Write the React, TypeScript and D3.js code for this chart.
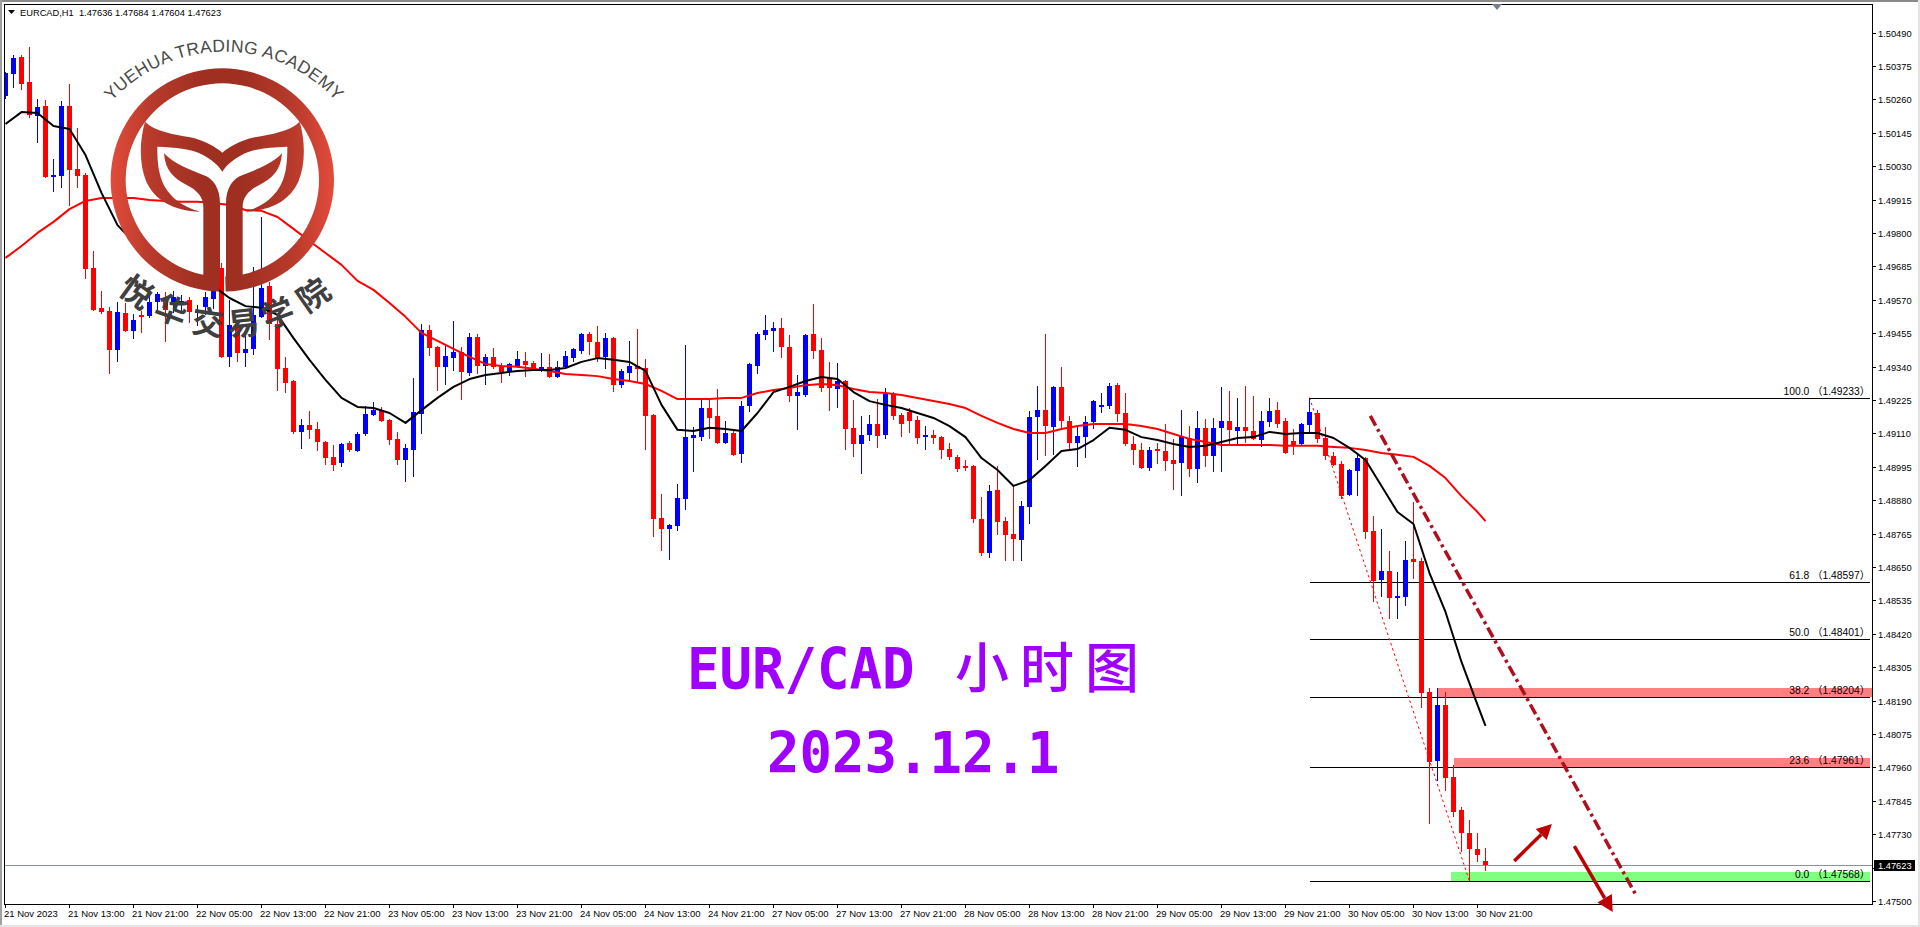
import React from "react";
import * as d3 from "d3";

// Prices in points (1/100000)
const opens = [
150271,150347,150406,150320,150203,150237,149993,149996,150237,150020,
150000,149679,149542,149531,149397,149524,149462,149518,149514,149562,
149569,149555,149559,149569,149528,149545,149573,149679,149373,149476,
149387,149401,149511,149617,149487,149335,149290,149115,149139,149125,
149080,149029,149008,149077,149049,149108,149173,149187,149156,149091,
149018,149053,149177,149466,149407,149339,149369,149390,149318,149442,
149342,149373,149342,149321,149342,149359,149352,149325,149339,149304,
149339,149369,149394,149452,149425,149373,149438,149276,149318,149342,
149335,149173,148819,148781,148791,148884,149094,149097,149197,149170,
149077,149111,149039,149204,149342,149449,149462,149473,149407,149239,
149242,149452,149397,149301,149263,149290,149129,149073,149104,149142,
149104,149246,149173,149184,149156,149097,149104,149097,149056,149029,
148998,148998,148815,148698,148915,148808,148764,148743,148856,149166,
149190,149132,149270,149153,149077,149097,149149,149204,149204,149276,
149180,149073,149053,148991,149056,149049,149018,149008,149094,148987,
149129,149032,149129,149153,149118,149132,149118,149087,149149,149190,
149153,149084,149073,149139,149180,149094,149032,149005,148898,148980,
149025,148774,148605,148636,148543,148547,148678,148671,148220,147982,
148175,147927,147813,147734,147679,147636];
const highs = [
150354,150413,150413,150440,150261,150258,150055,150254,150313,150161,
150006,149738,149600,149545,149562,149559,149521,149531,149590,149597,
149597,149600,149586,149579,149552,149597,149631,149697,149569,149500,
149452,149683,149855,149631,149500,149373,149295,149160,149187,149149,
149084,149070,149077,149084,149115,149204,149218,149201,149160,149115,
149073,149301,149487,149483,149411,149411,149497,149407,149456,149452,
149383,149404,149352,149352,149394,149390,149359,149387,149383,149359,
149394,149404,149456,149459,149480,149456,149442,149332,149428,149469,
149366,149177,148901,148798,148936,149414,149132,149225,149225,149263,
149153,149118,149221,149352,149459,149518,149493,149507,149449,149311,
149452,149555,149438,149356,149352,149295,149225,149170,149173,149228,
149266,149252,149180,149197,149170,149135,149122,149101,149077,149036,
149018,149001,148891,148932,148998,148822,148929,148877,149187,149273,
149452,149273,149339,149170,149135,149170,149225,149249,149283,149283,
149249,149101,149077,149063,149077,149142,149091,149190,149135,149187,
149160,149163,149270,149256,149232,149273,149239,149187,149232,149218,
149163,149125,149146,149233,149190,149132,149046,149015,148987,149039,
149029,148826,148781,148705,148633,148739,148874,148681,148233,148233,
148220,147968,147824,147779,147734,147684];
const lows = [
150261,150299,150292,150196,150110,149990,149941,149955,149893,149955,
149641,149530,149521,149314,149356,149459,149435,149456,149507,149535,
149425,149524,149528,149490,149480,149518,149538,149369,149339,149356,
149339,149380,149508,149431,149256,149249,149108,149056,149091,149049,
149001,148980,148994,149046,149046,149101,149170,149150,149070,149001,
148943,148960,149108,149376,149256,149276,149325,149225,149307,149314,
149276,149332,149283,149307,149335,149304,149328,149321,149301,149301,
149332,149356,149383,149380,149356,149332,149252,149266,149294,149287,
149053,148753,148705,148674,148774,148846,148977,149084,149091,149073,
149073,149032,149008,149184,149314,149431,149390,149369,149218,149122,
149235,149366,149252,149187,149197,149053,149029,148970,149084,149060,
149091,149156,149097,149111,149073,149053,149073,149022,149018,148977,
148980,148801,148688,148681,148760,148671,148671,148671,148798,149018,
149032,149036,149125,149053,148994,149025,149125,149180,149194,149149,
149067,149001,148988,148980,149005,148980,148915,148894,148960,148939,
148994,148977,148977,149073,149073,149077,149087,149063,149132,149129,
149040,149036,149070,149115,149077,149018,148998,148884,148894,148894,
148746,148530,148547,148471,148471,148516,148609,148165,147765,147913,
147879,147789,147669,147568,147634,147604];
const closes = [
150351,150402,150313,150206,150234,149993,150000,150237,150017,149996,
149676,149535,149528,149397,149528,149462,149500,149511,149562,149590,
149535,149579,149566,149528,149531,149579,149610,149373,149483,149387,
149401,149518,149610,149487,149332,149283,149115,149139,149122,149080,
149025,149001,149073,149053,149108,149177,149190,149153,149087,149018,
149060,149184,149466,149404,149339,149376,149390,149321,149442,149342,
149373,149339,149321,149349,149366,149345,149332,149339,149304,149339,
149376,149401,149452,149425,149369,149438,149276,149325,149342,149332,
149170,148815,148781,148795,148887,149097,149104,149197,149163,149077,
149111,149036,149204,149349,149452,149466,149473,149407,149239,149252,
149449,149394,149266,149266,149290,149125,149073,149104,149142,149101,
149246,149170,149142,149153,149094,149104,149094,149053,149029,148987,
148991,148815,148698,148912,148805,148760,148746,148860,149166,149190,
149135,149270,149153,149077,149101,149149,149221,149208,149273,149177,
149073,149053,148991,149053,149049,149015,149005,149101,148987,149129,
149032,149129,149153,149122,149132,149118,149091,149153,149187,149142,
149042,149067,149142,149184,149091,149032,149001,148894,148984,149025,
148770,148602,148636,148543,148550,148674,148667,148216,147979,148175,
147924,147806,147734,147679,147658,147623];

// Moving averages, read at every second bar (and the last bar)
const fastMA = [
150175,150216,150213,150168,150158,150068,149938,149827,149769,149734,
149700,149666,149638,149617,149576,149548,149542,149518,149438,149363,
149294,149232,149201,149197,149180,149146,149190,149232,149270,149297,
149311,149318,149325,149328,149328,149335,149356,149369,149363,149356,
149325,149208,149122,149118,149129,149125,149118,149180,149252,149270,
149290,149304,149297,149252,149221,149208,149197,149180,149163,149135,
149097,149025,148984,148929,148949,148998,149049,149056,149087,149129,
149122,149097,149087,149073,149063,149067,149080,149094,149097,149115,
149108,149111,149111,149094,149060,149018,148929,148839,148798,148629,
148495,148323,148175,148103];
const slowMA = [
149714,149755,149800,149838,149882,149910,149920,149920,149920,149913,
149910,149907,149907,149903,149896,149879,149876,149855,149814,149772,
149731,149690,149635,149604,149559,149511,149456,149428,149401,149373,
149349,149342,149339,149332,149325,149314,149311,149307,149297,149290,
149280,149256,149228,149228,149228,149232,149232,149249,149259,149266,
149276,149280,149276,149263,149252,149249,149242,149232,149221,149211,
149197,149170,149146,149125,149111,149111,149125,149135,149142,149142,
149142,149135,149125,149108,149091,149080,149070,149070,149070,149070,
149067,149067,149067,149063,149060,149053,149042,149036,149029,148998,
148956,148894,148839,148808];

const priceTicks = [150490,150375,150260,150145,150030,149915,149800,149685,149570,149455,149340,149225,149110,148995,148880,148765,148650,148535,148420,148305,148190,148075,147960,147845,147730,147615,147500];
const timeLabels = ["21 Nov 2023","21 Nov 13:00","21 Nov 21:00","22 Nov 05:00","22 Nov 13:00","22 Nov 21:00","23 Nov 05:00","23 Nov 13:00","23 Nov 21:00","24 Nov 05:00","24 Nov 13:00","24 Nov 21:00","27 Nov 05:00","27 Nov 13:00","27 Nov 21:00","28 Nov 05:00","28 Nov 13:00","28 Nov 21:00","29 Nov 05:00","29 Nov 13:00","29 Nov 21:00","30 Nov 05:00","30 Nov 13:00","30 Nov 21:00"];

const fibLevels = [100.0, 61.8, 50.0, 38.2, 23.6, 0.0];
const fibPrices = [149233, 148597, 148401, 148204, 147961, 147568];
const fibBarStart = 163, fibBarEnd = 183, fibBarRight = 233;
const zoneTops = [148233, 147993, 147600];
const zoneBottoms = [148204, 147961, 147568];
const zoneStarts = [179, 181, 180.7];
const zoneEnds = [234.2, 233, 233];
const zoneFills = ["#ff8080", "#ff8080", "#80ff80"];
const channelBars = [170.6, 203.8];
const channelPrices = [149170, 147521];
const arrowUpBars = [188.6, 193.3];
const arrowUpPrices = [147638, 147765];
const arrowDownBars = [196.1, 200.9];
const arrowDownPrices = [147689, 147462];
const lastPrice = 147623;

const W = 1920, H = 927;
const left = 4.5, top = 4.5, right = 1872.5, bottom = 904.5;
const x = d3.scaleLinear().domain([0, 185]).range([5.5, 1485.5]);
const y = d3.scaleLinear().domain([147500, 150490]).range([901, 32.5]);
const px = (v: number) => Math.round(y(v));
const AXIS_FONT = "'Liberation Sans', Arial, sans-serif";
const maLine = d3.line<number>()
  .x((_, i) => x(Math.min(i * 2, 185)))
  .y((d) => y(d));

const fmt = (v: number) => (v / 100000).toFixed(5);

function Arrow({ bars, prices, shaft, head }: { bars: number[]; prices: number[]; shaft: number; head: number }) {
  const x0 = x(bars[0]), y0 = y(prices[0]), x1 = x(bars[1]), y1 = y(prices[1]);
  const a = Math.atan2(y1 - y0, x1 - x0);
  const bx = x1 - head * Math.cos(a), by = y1 - head * Math.sin(a);
  const hw = head * 0.52;
  const pts = [[x1, y1], [bx - hw * Math.sin(a), by + hw * Math.cos(a)], [bx + hw * Math.sin(a), by - hw * Math.cos(a)]];
  return (
    <g>
      <line x1={x0} y1={y0} x2={bx} y2={by} stroke="#c00000" strokeWidth={shaft} />
      <polygon points={pts.map((p) => p.join(",")).join(" ")} fill="#c00000" />
    </g>
  );
}

function Logo() {
  const ring = d3.arc()({
    innerRadius: 290, outerRadius: 335,
    startAngle: Math.PI + 0.03, endAngle: 3 * Math.PI - 0.03, cornerRadius: 12,
  } as any) as string;
  const crescent = "M435,365 C465,395 520,402 570,412 C615,422 645,440 667,458 C689,440 719,422 764,412 C814,402 869,395 899,365 C915,420 918,490 895,545 C870,600 815,632 735,635 C790,620 840,585 855,520 C862,490 862,460 862,440 C810,442 760,445 725,465 C700,478 680,495 667,515 C654,495 634,478 609,465 C574,445 524,442 472,440 C472,460 472,490 479,520 C494,585 544,620 600,635 C519,632 464,600 439,545 C416,490 419,420 435,365 Z";
  const stem = "M492,460 C520,490 570,510 610,525 C640,535 660,565 660,610 L660,850 L610,850 L610,620 C610,590 590,570 560,555 C520,535 495,510 492,460 Z";
  const chars = [
    ["悦", 138, 290, 36], ["华", 172, 308, 20], ["交", 208, 320, 8],
    ["易", 243, 321, -6], ["学", 277, 311, -20], ["院", 312, 293, -35],
  ] as [string, number, number, number][];
  const stops = (
    <>
      <stop offset="0" stopColor="#e34b3b" />
      <stop offset="0.18" stopColor="#b83a2b" />
      <stop offset="0.42" stopColor="#9e2f21" />
      <stop offset="0.58" stopColor="#9e2f21" />
      <stop offset="0.82" stopColor="#b83a2b" />
      <stop offset="1" stopColor="#e34b3b" />
    </>
  );
  return (
    <g>
      <defs>
        <linearGradient id="logoGrad" gradientUnits="userSpaceOnUse" x1={332} x2={1002} y1={0} y2={0}>{stops}</linearGradient>
        <linearGradient id="ringGrad" gradientUnits="userSpaceOnUse" x1={-335} x2={335} y1={0} y2={0}>{stops}</linearGradient>
        <path id="logoArc" d="M90,132 A152,152 0 0 1 358,132" fill="none" />
      </defs>
      <g transform="scale(0.33333)" fill="url(#logoGrad)">
        <path d={ring} transform="translate(667,540)" fill="url(#ringGrad)" />
        <path d={crescent} />
        <path d={stem} />
        <path d={stem} transform="translate(1338,0) scale(-1,1)" />
      </g>
      <text fontFamily={AXIS_FONT} fontSize={17.5} fill="#4a4a4a" letterSpacing={0.3} textAnchor="middle">
        <textPath href="#logoArc" startOffset="50%">YUEHUA TRADING ACADEMY</textPath>
      </text>
      {chars.map(([c, cx, cy, r]) => (
        <text key={c} transform={`translate(${cx},${cy}) rotate(${r})`} textAnchor="middle" dominantBaseline="central"
          fontFamily="'Noto Sans CJK SC'" fontWeight={700} fontSize={32} fill="#3f3f3f">{c}</text>
      ))}
    </g>
  );
}

export default function App() {
  const tickFont = { fontFamily: AXIS_FONT, fontSize: 9.5, fill: "#000" };
  const priceFont = { fontFamily: AXIS_FONT, fontSize: 9.3, fill: "#000" };
  return (
    <svg width={W} height={H} viewBox={`0 0 ${W} ${H}`} style={{ position: "absolute", left: 0, top: 0, display: "block", background: "#fff" }}>
      <defs>
        <clipPath id="plot"><rect x={left} y={top} width={right - left} height={bottom - top} /></clipPath>
      </defs>
      {/* window frame */}
      <rect x={0} y={0} width={W} height={2} fill="#8a8a8a" />
      <rect x={0} y={0} width={2} height={H} fill="#a0a0a0" />
      <rect x={0} y={H - 2} width={W} height={2} fill="#e4e4e4" />
      <rect x={W - 2} y={0} width={2} height={H} fill="#e4e4e4" />

      {/* zones */}
      <g clipPath="url(#plot)" shapeRendering="crispEdges">
        {zoneTops.map((t, i) => (
          <rect key={i} x={x(zoneStarts[i])} y={px(t)} width={x(zoneEnds[i]) - x(zoneStarts[i])} height={px(zoneBottoms[i]) - px(t)} fill={zoneFills[i]} />
        ))}
      </g>

      {/* last price line */}
      <line x1={left} x2={right} y1={px(lastPrice) + 0.5} y2={px(lastPrice) + 0.5} stroke="#8a929a" shapeRendering="crispEdges" />

      {/* fibonacci */}
      <g shapeRendering="crispEdges">
        {fibPrices.map((p, i) => (
          <line key={i} x1={x(fibBarStart)} x2={x(fibBarRight)} y1={px(p) + 0.5} y2={px(p) + 0.5} stroke="#000" />
        ))}
      </g>
      <line x1={x(fibBarStart)} y1={y(fibPrices[0])} x2={x(fibBarEnd)} y2={y(fibPrices[5])} stroke="#ff0000" strokeDasharray="2.5 3" />
      {fibPrices.map((p, i) => (
        <text key={i} x={1870} y={px(p) - 3} textAnchor="end" fontFamily={"'Liberation Sans','Noto Sans CJK SC',sans-serif"} fontSize={10.3} fill="#000">
          {`${fibLevels[i].toFixed(1)} （${fmt(p)}）`}
        </text>
      ))}

      {/* candles */}
      <g clipPath="url(#plot)" shapeRendering="crispEdges">
        {opens.map((o, i) => {
          const c = closes[i];
          const col = c > o ? "#0000ff" : "#ff0000";
          const cx = x(i);
          const t = px(Math.max(o, c)), b = px(Math.min(o, c));
          return (
            <g key={i} fill={col}>
              <rect x={cx - 0.5} y={px(highs[i])} width={1} height={Math.max(1, px(lows[i]) - px(highs[i]))} />
              <rect x={cx - 2.5} y={t} width={5} height={Math.max(2, b - t)} />
            </g>
          );
        })}
      </g>

      {/* moving averages */}
      <g clipPath="url(#plot)" fill="none" strokeWidth={2} strokeLinejoin="round">
        <path d={maLine(slowMA) as string} stroke="#ff0000" />
        <path d={maLine(fastMA) as string} stroke="#000000" />
      </g>

      {/* plot frame & axes */}
      <rect x={left} y={top} width={right - left} height={bottom - top} fill="none" stroke="#000" shapeRendering="crispEdges" />
      <polygon points="1492,4 1502,4 1497,10" fill="#708090" />
      {priceTicks.map((p) => (
        <g key={p}>
          <line x1={right} x2={right + 3} y1={px(p) + 0.5} y2={px(p) + 0.5} stroke="#000" shapeRendering="crispEdges" />
          {p !== 147615 && (
            <text x={1878} y={px(p) + 0.5} dominantBaseline="central" {...priceFont}>{fmt(p)}</text>
          )}
        </g>
      ))}
      <rect x={1874} y={860} width={41} height={11} fill="#000" />
      <text x={1878} y={865.5} dominantBaseline="central" {...priceFont} fill="#fff">{fmt(lastPrice)}</text>
      {timeLabels.map((t, i) => (
        <g key={t}>
          <line x1={x(i * 8)} x2={x(i * 8)} y1={bottom} y2={bottom + 3} stroke="#000" shapeRendering="crispEdges" />
          <text x={x(i * 8) - 1.5} y={913.5} dominantBaseline="central" {...tickFont}>{t}</text>
        </g>
      ))}

      {/* header */}
      <polygon points="8,10 15,10 11.5,14" fill="#000" />
      <text x={20} y={12.5} dominantBaseline="central" {...priceFont}>
        {`EURCAD,H1\u00a0\u00a0${fmt(opens[185])} ${fmt(highs[185])} ${fmt(lows[185])} ${fmt(closes[185])}`}
      </text>

      {/* drawn channel line + arrows */}
      <line x1={x(channelBars[0])} y1={y(channelPrices[0])} x2={x(channelBars[1])} y2={y(channelPrices[1])}
        stroke="#b00f1e" strokeWidth={3.5} strokeDasharray="11 4 3 4" />
      <Arrow bars={arrowUpBars} prices={arrowUpPrices} shaft={3.5} head={15} />
      <Arrow bars={arrowDownBars} prices={arrowDownPrices} shaft={3.5} head={16} />

      {/* big title */}
      <text transform="translate(687,689) scale(1,1.06)" fontFamily="'DejaVu Sans Mono', monospace" fontWeight={700} fontSize={54} fill="#9f00ff">EUR/CAD</text>
      <text x={955} y={688} fontFamily="'Noto Sans CJK SC'" fontWeight={500} fontSize={54} fill="#9f00ff" letterSpacing={11}>小时图</text>
      <text transform="translate(767,773) scale(1,1.06)" fontFamily="'DejaVu Sans Mono', monospace" fontWeight={700} fontSize={54} fill="#9f00ff">2023.12.1</text>

      <Logo />
    </svg>
  );
}
